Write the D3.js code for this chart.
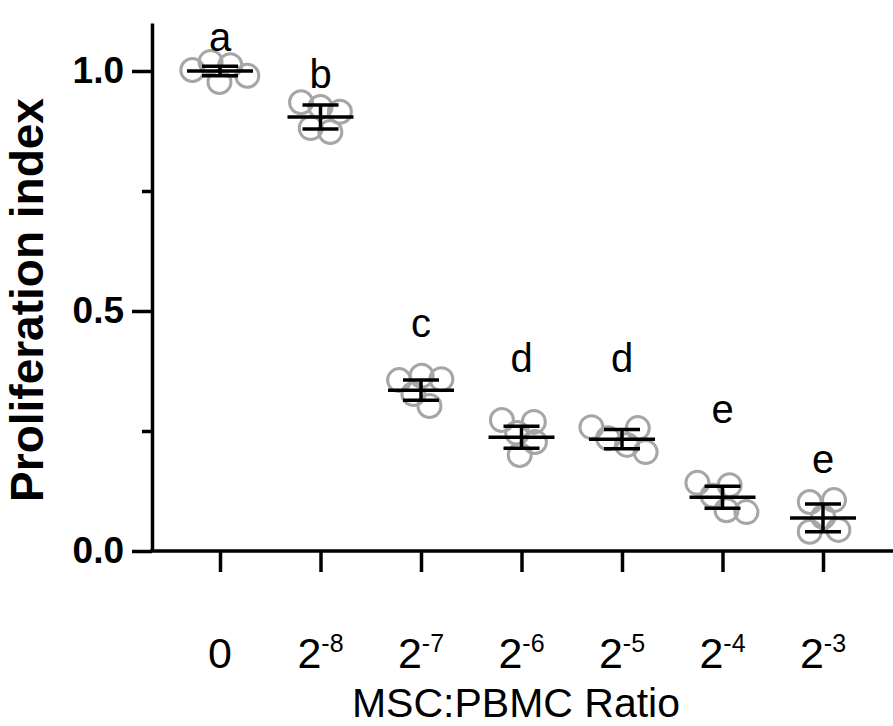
<!DOCTYPE html>
<meta charset="utf-8">

<!-- Load d3.js -->
<script src="https://d3js.org/d3.v7.js"></script>

<style>
  body { margin: 0; background: #fff; }
  text { font-family: "Liberation Sans", Arial, Helvetica, sans-serif; }
</style>

<svg id="my_dataviz" width="893" height="726"></svg>

<script>

// Categories (MSC:PBMC ratio) - base and exponent of the tick label
const groups = ["0", "2^-8", "2^-7", "2^-6", "2^-5", "2^-4", "2^-3"];
const tickBase = ["0", "2", "2", "2", "2", "2", "2"];
const tickExp = ["", "-8", "-7", "-6", "-5", "-4", "-3"];

// Individual replicates (proliferation index)
const pts0 = [1.002, 1.019, 1.012, 0.977, 0.990];
const pts8 = [0.935, 0.925, 0.915, 0.881, 0.873];
const pts7 = [0.356, 0.365, 0.358, 0.327, 0.302];
const pts6 = [0.273, 0.269, 0.246, 0.227, 0.200];
const pts5 = [0.258, 0.256, 0.235, 0.221, 0.206];
const pts4 = [0.142, 0.137, 0.115, 0.085, 0.081];
const pts3 = [0.102, 0.106, 0.071, 0.040, 0.044];
const points = [pts0, pts8, pts7, pts6, pts5, pts4, pts3];

// Mean and SD per group
const means = [1.000, 0.904, 0.335, 0.237, 0.233, 0.112, 0.069];
const sds = [0.010, 0.025, 0.021, 0.023, 0.020, 0.023, 0.029];

// Significance letters and the level they sit at
const letters = ["a", "b", "c", "d", "d", "e", "e"];
const letterAt = [1.042, 0.965, 0.446, 0.372, 0.372, 0.267, 0.163];

// Y ticks
const majorTicks = [0, 0.5, 1.0];
const minorTicks = [0.25, 0.75];

// The svg
const svg = d3.select("svg"),
  width = +svg.attr("width"),
  height = +svg.attr("height");

const marginLeft = 152, plotTop = 23, plotBottom = 551;

// Scales
const y = d3.scaleLinear()
  .domain([0, 1.1])
  .range([plotBottom, plotTop]);

const x = d3.scalePoint()
  .domain(groups)
  .range([220, 823]);

// Y axis
const yAxis = svg.append("g")
  .attr("transform", `translate(${marginLeft},0)`)
  .call(d3.axisLeft(y).tickValues(majorTicks).tickFormat(d3.format(".1f")).tickSize(20).tickSizeOuter(0).tickPadding(8));

yAxis.select(".domain").attr("stroke-width", 3.5);
yAxis.selectAll(".tick line").attr("stroke-width", 3.5);
yAxis.selectAll(".tick text")
  .attr("font-size", 37)
  .attr("font-weight", "bold")
  .attr("fill", "#000")
  .attr("font-family", "'Liberation Sans', Arial, sans-serif");

const yMinor = svg.append("g")
  .attr("transform", `translate(${marginLeft},0)`)
  .call(d3.axisLeft(y).tickValues(minorTicks).tickFormat("").tickSize(10).tickSizeOuter(0));
yMinor.select(".domain").remove();
yMinor.selectAll(".tick line").attr("stroke-width", 3.5);

// X axis
svg.append("line")
  .attr("x1", marginLeft - 1.75).attr("x2", width)
  .attr("y1", y(0)).attr("y2", y(0))
  .attr("stroke", "#000")
  .attr("stroke-width", 3.5);

const xAxis = svg.append("g")
  .attr("transform", `translate(0,${y(0)})`)
  .call(d3.axisBottom(x).tickSize(21).tickSizeOuter(0).tickFormat(""));
xAxis.select(".domain").remove();
xAxis.selectAll(".tick line").attr("stroke-width", 3.5);

const tickLabels = svg.append("g")
  .selectAll("text")
  .data(groups)
  .join("text")
    .attr("x", d => x(d))
    .attr("y", 668)
    .attr("text-anchor", "middle")
    .attr("font-size", 43)
    .attr("fill", "#000");

tickLabels.append("tspan")
  .text((d, i) => tickBase[i]);
tickLabels.append("tspan")
  .attr("dy", -16)
  .attr("font-size", 25)
  .text((d, i) => tickExp[i]);

// Axis titles
svg.append("text")
  .attr("x", 516)
  .attr("y", 717)
  .attr("text-anchor", "middle")
  .attr("font-size", 41)
  .text("MSC:PBMC Ratio");

svg.append("text")
  .attr("transform", "translate(43,300) rotate(-90)")
  .attr("text-anchor", "middle")
  .attr("font-size", 46)
  .attr("font-weight", "bold")
  .text("Proliferation index");

// Spread replicates horizontally so they do not pile up
const nodes = [];
points.forEach(function (vals, i) {
  vals.forEach(function (v, j) {
    nodes.push({ g: i, v: v, x: x(groups[i]) + (j - 2) * 3, fy: y(v) });
  });
});

const sim = d3.forceSimulation(nodes)
  .randomSource(d3.randomLcg(7))
  .force("x", d3.forceX(d => x(groups[d.g])).strength(0.06))
  .force("collide", d3.forceCollide(10))
  .stop();
for (let k = 0; k < 300; k++) sim.tick();

svg.append("g")
  .selectAll("circle")
  .data(nodes)
  .join("circle")
    .attr("cx", d => d.x)
    .attr("cy", d => y(d.v))
    .attr("r", 11.5)
    .attr("fill", "none")
    .attr("stroke", "#a6a6a6")
    .attr("stroke-width", 3);

// Mean +/- SD
const bars = svg.append("g")
  .selectAll("g")
  .data(groups)
  .join("g")
    .attr("stroke", "#000")
    .attr("stroke-width", 3.5);

bars.append("line")
  .attr("x1", d => x(d) - 33).attr("x2", d => x(d) + 33)
  .attr("y1", (d, i) => y(means[i])).attr("y2", (d, i) => y(means[i]));
bars.append("line")
  .attr("x1", d => x(d)).attr("x2", d => x(d))
  .attr("y1", (d, i) => y(means[i] - sds[i])).attr("y2", (d, i) => y(means[i] + sds[i]));
bars.append("line")
  .attr("x1", d => x(d) - 18).attr("x2", d => x(d) + 18)
  .attr("y1", (d, i) => y(means[i] + sds[i])).attr("y2", (d, i) => y(means[i] + sds[i]));
bars.append("line")
  .attr("x1", d => x(d) - 18).attr("x2", d => x(d) + 18)
  .attr("y1", (d, i) => y(means[i] - sds[i])).attr("y2", (d, i) => y(means[i] - sds[i]));

// Letters
svg.append("g")
  .selectAll("text")
  .data(groups)
  .join("text")
    .attr("x", d => x(d))
    .attr("y", (d, i) => y(letterAt[i]))
    .attr("text-anchor", "middle")
    .attr("font-size", 40)
    .text((d, i) => letters[i]);

</script>
